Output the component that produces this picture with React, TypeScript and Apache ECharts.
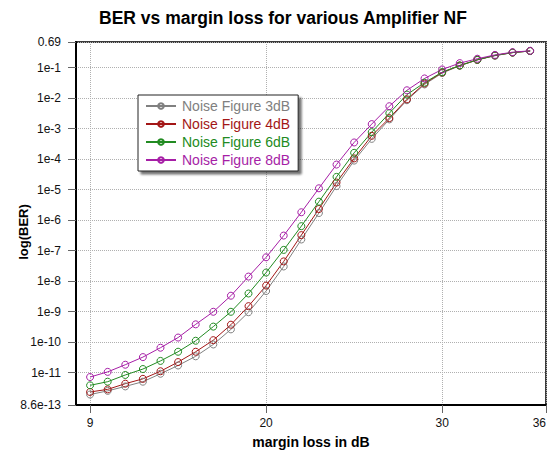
import React, { useEffect, useRef } from 'react';
import * as echarts from 'echarts';

// margin loss (dB) at each measured point
const marginLoss = [10, 11, 12, 13, 14, 15, 16, 17, 18, 19, 20, 21, 22, 23, 24, 25, 26, 27, 28, 29, 30, 31, 32, 33, 34, 35];

const ber3dB = [1.9e-12, 2.5e-12, 3.5e-12, 5.0e-12, 9.1e-12, 1.7e-11, 3.4e-11, 8.3e-11, 2.6e-10, 9.5e-10, 4.7e-9, 3.0e-8, 2.3e-7, 1.7e-6, 1.3e-5, 8.9e-5, 4.6e-4, 2.0e-3, 8.5e-3, 2.8e-2, 6.6e-2, 0.115, 0.178, 0.245, 0.31, 0.35];
const ber4dB = [2.3e-12, 2.8e-12, 4.3e-12, 6.2e-12, 1.1e-11, 2.2e-11, 4.8e-11, 1.15e-10, 3.7e-10, 1.5e-9, 7.1e-9, 4.4e-8, 3.2e-7, 2.3e-6, 1.7e-5, 1.05e-4, 5.8e-4, 2.2e-3, 9.1e-3, 3.0e-2, 6.9e-2, 0.117, 0.18, 0.25, 0.31, 0.35];
const ber6dB = [3.8e-12, 5.0e-12, 8.3e-12, 1.3e-11, 2.4e-11, 4.8e-11, 1.1e-10, 3.2e-10, 9.8e-10, 3.9e-9, 1.9e-8, 1.05e-7, 6.3e-7, 4.0e-6, 2.6e-5, 1.6e-4, 7.6e-4, 3.2e-3, 1.3e-2, 3.2e-2, 7.1e-2, 0.117, 0.18, 0.25, 0.31, 0.35];
const ber8dB = [7.1e-12, 1.05e-11, 1.8e-11, 3.2e-11, 6.5e-11, 1.4e-10, 3.8e-10, 9.8e-10, 3.3e-9, 1.4e-8, 6.0e-8, 3.1e-7, 1.8e-6, 1.1e-5, 6.6e-5, 3.5e-4, 1.4e-3, 5.4e-3, 1.8e-2, 4.4e-2, 8.7e-2, 0.14, 0.195, 0.26, 0.32, 0.355];

const seriesNames = ['Noise Figure 3dB', 'Noise Figure 4dB', 'Noise Figure 6dB', 'Noise Figure 8dB'];
const seriesColors = ['#808080', '#a31616', '#228b22', '#a61ea6'];
const seriesData = [ber3dB, ber4dB, ber6dB, ber8dB];

const xTickValues = [10, 20, 30, 35.9];
const xTickLabels = ['9', '20', '30', '36'];
const yTickValues = [8.601e-13, 1e-11, 1e-10, 1e-9, 1e-8, 1e-7, 1e-6, 1e-5, 1e-4, 1e-3, 1e-2, 1e-1, 0.6899];
const yTickLabels = ['8.6e-13', '1e-11', '1e-10', '1e-9', '1e-8', '1e-7', '1e-6', '1e-5', '1e-4', '1e-3', '1e-2', '1e-1', '0.69'];

const FONT = '"Liberation Sans", Arial, sans-serif';

function nearestLabel(v: number, values: number[], labels: string[], logScale: boolean) {
  let best = 0;
  let bestD = Infinity;
  values.forEach((t, i) => {
    const d = logScale ? Math.abs(Math.log10(v) - Math.log10(t)) : Math.abs(v - t);
    if (d < bestD) { bestD = d; best = i; }
  });
  return labels[best];
}

export default function App() {
  const ref = useRef<HTMLDivElement>(null);
  useEffect(() => {
    if (!ref.current) return;
    const chart = echarts.init(ref.current, undefined, { renderer: 'svg' });
    const option: any = {
      animation: false,
      backgroundColor: '#ffffff',
      title: {
        text: 'BER vs margin loss for various Amplifier NF',
        left: 99,
        top: 9,
        padding: 0,
        textStyle: { fontSize: 17.5, fontWeight: 'bold', color: '#000', fontFamily: FONT },
      },
      grid: {
        left: 76, right: 4, top: 42, bottom: 49,
        outerBoundsMode: 'none',
        containLabel: false,
        show: true, borderColor: '#3a3a3a', borderWidth: 2, backgroundColor: '#fff',
      },
      legend: {
        orient: 'vertical',
        left: 138,
        top: 95,
        padding: [4, 8, 4, 7],
        itemWidth: 30,
        itemHeight: 7,
        itemGap: 4,
        backgroundColor: '#fff',
        borderColor: '#222',
        borderWidth: 1,
        shadowColor: 'rgba(0,0,0,0.55)',
        shadowOffsetX: 3,
        shadowOffsetY: 3,
        shadowBlur: 2,
        data: seriesNames.map((n, i) => ({ name: n, textStyle: { color: seriesColors[i] } })),
        textStyle: { fontSize: 14, fontFamily: FONT, padding: [0, 0, 0, 1] },
      },
      xAxis: {
        type: 'value',
        min: 9.2,
        max: 35.9,
        name: 'margin loss in dB',
        nameLocation: 'middle',
        nameGap: 30,
        nameMoveOverlap: false,
        nameTextStyle: { fontSize: 14, fontWeight: 'bold', color: '#000', fontFamily: FONT },
        axisLine: { show: true, lineStyle: { color: '#000', width: 2 } },
        axisTick: { show: true, length: 8, customValues: xTickValues, lineStyle: { color: '#666' } },
        axisLabel: {
          customValues: xTickValues,
          margin: 12,
          fontSize: 12,
          color: '#111',
          fontFamily: FONT,
          alignMaxLabel: 'right',
          formatter: (v: number) => nearestLabel(v, xTickValues, xTickLabels, false),
        },
        splitLine: { show: true, lineStyle: { color: '#b0b0b0', type: 'dotted', width: 1 } },
      },
      yAxis: {
        type: 'log',
        logBase: 10,
        min: 8.6e-13,
        max: 0.69,
        name: 'log(BER)',
        nameLocation: 'middle',
        nameGap: 46,
        nameRotate: 90,
        nameMoveOverlap: false,
        nameTextStyle: { fontSize: 13, fontWeight: 'bold', color: '#000', fontFamily: FONT, padding: [0, 17, 0, 0] },
        axisLine: { show: true, lineStyle: { color: '#000', width: 2 } },
        axisTick: { show: true, length: 8, customValues: yTickValues, lineStyle: { color: '#666' } },
        axisLabel: {
          customValues: yTickValues,
          margin: 15,
          fontSize: 12,
          color: '#111',
          fontFamily: FONT,
          formatter: (v: number) => nearestLabel(v, yTickValues, yTickLabels, true),
        },
        splitLine: { show: true, lineStyle: { color: '#b0b0b0', type: 'dotted', width: 1 } },
      },
      series: seriesNames.map((n, i) => ({
        name: n,
        type: 'line',
        data: marginLoss.map((x, j) => [x, seriesData[i][j]]),
        symbol: 'circle',
        symbolSize: 7,
        showSymbol: true,
        color: seriesColors[i],
        lineStyle: { color: seriesColors[i], width: 1 },
        itemStyle: { color: 'rgba(255,255,255,0)', borderColor: seriesColors[i], borderWidth: 1 },
        emphasis: { disabled: true },
      })),
    };
    chart.setOption(option);
    return () => chart.dispose();
  }, []);
  return <div ref={ref} style={{ position: 'absolute', left: 0, top: 0, width: 550, height: 454 }} />;
}
